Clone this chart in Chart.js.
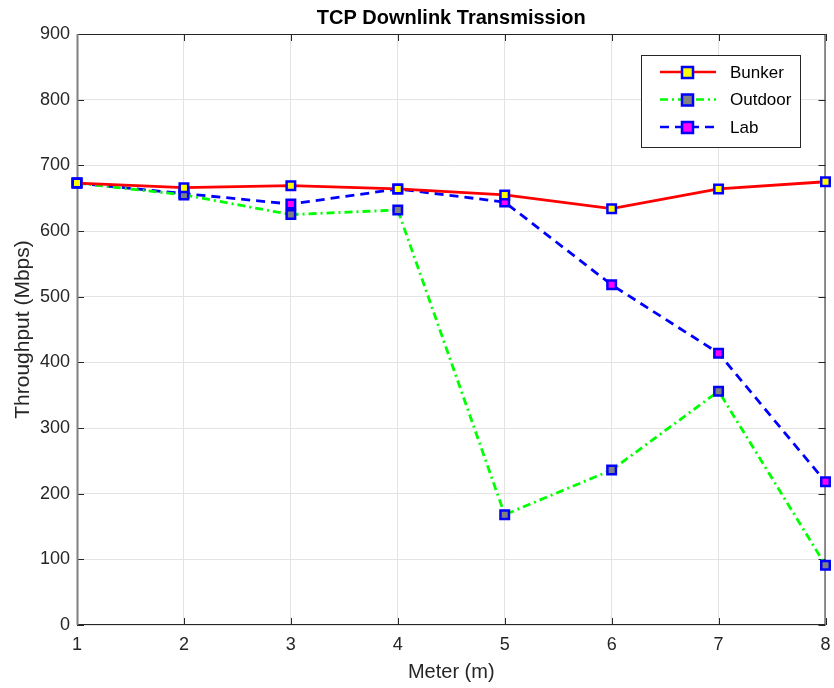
<!DOCTYPE html>
<html lang="en">
<head>
    <meta charset="UTF-8">
    <title>TCP Downlink Transmission</title>
    <script src="https://cdn.jsdelivr.net/npm/chart.js"></script>
    <style>
        html, body { margin: 0; padding: 0; background: #fff; }
        .wrap { width: 834px; height: 688px; }
    </style>
</head>
<body>
    <div class="wrap"><canvas id="chart" width="834" height="688"></canvas></div>

    <script>
        const meters = [1, 2, 3, 4, 5, 6, 7, 8];
        const bunker = [673, 666, 669, 664, 655, 634, 664, 675];
        const outdoor = [673, 655, 625, 632, 168, 236, 356, 91];
        const lab = [673, 657, 641, 664, 644, 518, 414, 218];
        const yTicks = [0, 100, 200, 300, 400, 500, 600, 700, 800, 900];

        const FONT = "'Liberation Sans', Arial, sans-serif";

        const series = [
            { label: 'Bunker', values: bunker, color: '#ff0000', fill: '#ffff00', dash: [] },
            { label: 'Outdoor', values: outdoor, color: '#00ff00', fill: '#808080', dash: [8, 4, 2, 4] },
            { label: 'Lab', values: lab, color: '#0000ff', fill: '#ff00ff', dash: [9, 6] }
        ];

        // box, inward ticks and the legend inside the plot
        const framePlugin = {
            id: 'frame',
            beforeDatasetsDraw(chart) {
                const ctx = chart.ctx;
                const a = chart.chartArea;
                const xs = chart.scales.x, ys = chart.scales.y;
                ctx.save();
                ctx.strokeStyle = '#262626';
                ctx.lineWidth = 1;
                ctx.strokeRect(a.left + 0.5, a.top + 0.5, a.right - a.left - 1, a.bottom - a.top - 1);
                ctx.beginPath();
                meters.forEach(m => {
                    const px = Math.round(xs.getPixelForValue(m)) + 0.5;
                    ctx.moveTo(px, a.bottom); ctx.lineTo(px, a.bottom - 7);
                    ctx.moveTo(px, a.top); ctx.lineTo(px, a.top + 7);
                });
                yTicks.forEach(v => {
                    const py = Math.round(ys.getPixelForValue(v)) + 0.5;
                    ctx.moveTo(a.left, py); ctx.lineTo(a.left + 7, py);
                    ctx.moveTo(a.right, py); ctx.lineTo(a.right - 7, py);
                });
                ctx.stroke();
                ctx.strokeStyle = '#808080';
                ctx.lineWidth = 2;
                ctx.beginPath();
                ctx.moveTo(a.left + 0.5, a.top); ctx.lineTo(a.left + 0.5, a.bottom);
                ctx.stroke();
                ctx.restore();
            },
            afterDraw(chart) {
                const ctx = chart.ctx;
                ctx.save();
                const lx = 641, ly = 55, lw = 159, lh = 92;
                ctx.fillStyle = '#fff';
                ctx.fillRect(lx, ly, lw, lh);
                ctx.strokeStyle = '#262626';
                ctx.lineWidth = 1;
                ctx.strokeRect(lx + 0.5, ly + 0.5, lw, lh);
                ctx.font = '17px ' + FONT;
                ctx.textBaseline = 'middle';
                series.forEach((s, i) => {
                    const cy = ly + 17 + i * 27.5;
                    ctx.strokeStyle = s.color;
                    ctx.lineWidth = 2.5;
                    ctx.setLineDash(s.dash);
                    ctx.beginPath();
                    ctx.moveTo(lx + 19, cy); ctx.lineTo(lx + 75, cy);
                    ctx.stroke();
                    ctx.setLineDash([]);
                    ctx.fillStyle = s.fill;
                    ctx.fillRect(lx + 41, cy - 5, 11, 11);
                    ctx.strokeStyle = '#0000ff';
                    ctx.lineWidth = 2.5;
                    ctx.strokeRect(lx + 41, cy - 5, 11, 11);
                    ctx.fillStyle = '#000';
                    ctx.fillText(s.label, lx + 89, cy + 1);
                });
                ctx.restore();
            }
        };

        new Chart(document.getElementById('chart'), {
            type: 'line',
            data: {
                datasets: series.map(s => ({
                    label: s.label,
                    data: meters.map((m, i) => ({ x: m, y: s.values[i] })),
                    borderColor: s.color,
                    borderWidth: 2.8,
                    borderDash: s.dash,
                    pointStyle: 'rect',
                    pointRadius: 6,
                    pointBorderWidth: 2.5,
                    pointBorderColor: '#0000ff',
                    pointBackgroundColor: s.fill,
                    clip: false,
                    tension: 0
                }))
            },
            options: {
                responsive: false,
                animation: false,
                layout: { padding: { left: 0, right: 8, top: 0, bottom: 0 } },
                plugins: {
                    legend: { display: false },
                    tooltip: { enabled: false },
                    title: {
                        display: true,
                        fullSize: false,
                        text: 'TCP Downlink Transmission',
                        color: '#000',
                        font: { family: FONT, size: 20, weight: 'bold' },
                        padding: { top: 6, bottom: 4 }
                    }
                },
                scales: {
                    x: {
                        type: 'linear',
                        min: 1,
                        max: 8,
                        afterFit: s => { s.height = 63; s.paddingLeft = 0; s.paddingRight = 0; },
                        ticks: { stepSize: 1, color: '#262626', font: { family: FONT, size: 18 }, padding: 9 },
                        grid: { color: '#e3e3e3', drawTicks: false },
                        border: { display: false },
                        title: { display: true, text: 'Meter (m)', color: '#262626', font: { family: FONT, size: 20 }, padding: { top: 3 } }
                    },
                    y: {
                        min: 0,
                        max: 900,
                        afterFit: s => { s.width = 77; s.paddingTop = 0; s.paddingBottom = 0; },
                        ticks: { stepSize: 100, color: '#262626', font: { family: FONT, size: 18 }, padding: 7 },
                        grid: { color: '#e3e3e3', drawTicks: false },
                        border: { display: false },
                        title: { display: true, text: 'Throughput (Mbps)', color: '#262626', font: { family: FONT, size: 21 }, padding: { top: 11, bottom: 6 } }
                    }
                }
            },
            plugins: [framePlugin]
        });
    </script>
</body>
</html>
